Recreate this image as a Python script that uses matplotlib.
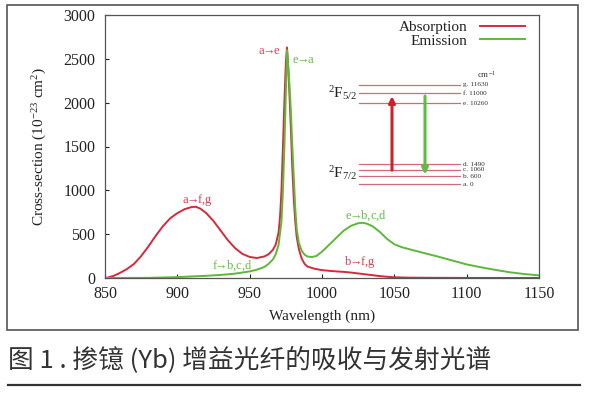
import matplotlib
matplotlib.use("Agg")
import matplotlib.pyplot as plt
from matplotlib.patches import Rectangle
from matplotlib.lines import Line2D

plt.rcParams['font.family'] = ['Liberation Serif', 'DejaVu Serif']
plt.rcParams['mathtext.fontset'] = 'custom'
plt.rcParams['mathtext.rm'] = 'Liberation Serif'
plt.rcParams['mathtext.it'] = 'Liberation Serif:italic'

# ---------------- data ----------------
abs_wl = [850, 852, 856, 860, 865, 870, 875, 880, 885, 890, 895, 900, 905, 910, 913,
          916, 920, 925, 930, 935, 940, 945, 950, 955, 960, 963, 966, 968, 970, 971,
          972, 973, 974, 975, 975.8, 976.5, 977.5, 978.5, 979.5, 980.5, 981.5, 982.5,
          984, 986, 988, 990, 995, 1000, 1005, 1010, 1015, 1020, 1025, 1030, 1035,
          1040, 1045, 1050, 1060, 1080, 1100, 1150]
abs_val = [0, 5, 25, 55, 100, 160, 250, 360, 480, 590, 680, 740, 785, 810, 812,
           790, 740, 650, 540, 430, 340, 275, 240, 228, 245, 270, 320, 380, 520, 700,
           1000, 1500, 2000, 2450, 2630, 2450, 2100, 1700, 1250, 900, 650, 470,
           330, 220, 160, 130, 105, 90, 82, 75, 70, 62, 52, 42, 32,
           22, 14, 8, 4, 2, 1, 0]

em_wl = [850, 880, 900, 910, 920, 930, 940, 950, 955, 960, 963, 966, 968, 970, 972,
         973, 974, 975, 975.8, 976.5, 977.5, 978.5, 979.5, 980.5, 981.5, 982.5, 984,
         986, 988, 990, 993, 996, 1000, 1005, 1010, 1015, 1020, 1025, 1028, 1031,
         1035, 1040, 1045, 1050, 1055, 1060, 1070, 1080, 1090, 1100, 1110, 1120,
         1130, 1140, 1150]
em_val = [0, 2, 10, 18, 25, 35, 50, 75, 95, 125, 160, 210, 270, 380, 650,
          1000, 1500, 2100, 2600, 2450, 2200, 1900, 1500, 1150, 800, 560, 400,
          310, 265, 245, 240, 250, 300, 380, 460, 540, 595, 625, 630, 620,
          590, 525, 445, 385, 352, 330, 287, 245, 200, 155, 122, 92,
          65, 45, 30]

x_ticks = [850, 900, 950, 1000, 1050, 1100, 1150]
y_ticks = [0, 500, 1000, 1500, 2000, 2500, 3000]

level_names = ['a', 'b', 'c', 'd', 'e', 'f', 'g']
level_energy = [0, 600, 1060, 1490, 10260, 11000, 11630]

RED = '#d42a3c'
GREEN = '#5db83a'
RED_T = '#d8404e'
GREEN_T = '#66bb48'

W, H = 589, 397
fig = plt.figure(figsize=(W / 100, H / 100), dpi=100)

def fx(px):
    return px / W

def fy(py):
    return 1 - py / H

# outer frame
fig.patches.append(Rectangle((fx(7), fy(330)), fx(578) - fx(7), fy(5) - fy(330),
                             transform=fig.transFigure, fill=False,
                             edgecolor='#555555', linewidth=1.2))

ax = fig.add_axes([fx(105), fy(278), fx(539) - fx(105), fy(15) - fy(278)])
ax.plot(abs_wl, abs_val, color=RED, lw=1.4, label='Absorption')
ax.plot(em_wl, em_val, color=GREEN, lw=1.4, label='Emission')
ax.set_xlim(850, 1150)
ax.set_ylim(0, 3000)
ax.set_xticks(x_ticks)
ax.set_yticks(y_ticks)
ax.tick_params(direction='in', length=3, labelsize=11.5, colors='#222222')
ax.tick_params(axis='x', pad=6)
ax.tick_params(axis='y', pad=7)
for s in ax.spines.values():
    s.set_color('#555555')
    s.set_linewidth(0.9)
ax.set_xlabel('Wavelength (nm)', fontsize=11, color='#222222', labelpad=5)
ax.set_ylabel('Cross-section (10$^{-23}$ cm$^{2}$)', fontsize=11, color='#222222', labelpad=10)

leg = ax.legend(loc='upper right', bbox_to_anchor=(0.99, 1.015), frameon=False,
                markerfirst=False, fontsize=11, handlelength=3.0, handletextpad=0.8,
                labelspacing=0.0, borderaxespad=0.2)
for t in leg.get_texts():
    t.set_color('#222222')

# transition labels
ann = dict(fontsize=9)
AR = '$\\!\\!\\rightarrow\\!\\!$'
ax.text(971.5, 2585, 'a' + AR + 'e', color=RED_T, ha='right', va='center', **ann)
ax.text(979, 2490, 'e' + AR + 'a', color=GREEN_T, ha='left', va='center', **ann)
ax.text(914, 885, 'a' + AR + 'f,g', color=RED_T, ha='center', va='center', **ann)
ax.text(938, 135, 'f' + AR + 'b,c,d', color=GREEN_T, ha='center', va='center', **ann)
ax.text(1030, 715, 'e' + AR + 'b,c,d', color=GREEN_T, ha='center', va='center', **ann)
ax.text(1026, 180, 'b' + AR + 'f,g', color=RED_T, ha='center', va='center', **ann)

# energy level inset
ins = fig.add_axes([fx(320), fy(190), fx(540) - fx(320), fy(70) - fy(190)])
ins.set_xlim(320, 540)
ins.set_ylim(-450, 8550)
ins.axis('off')
ins.patch.set_alpha(0)
OFF = 4200

def disp(e):
    return e - OFF if e > 5000 else e

for name, e in zip(level_names, level_energy):
    y = disp(e)
    ins.plot([359, 460], [y, y], color='#d46a78', lw=0.9)
    ins.text(463, y, f'{name}. {e}', fontsize=5.2, va='center', ha='left', color='#333333')
ins.text(477, disp(12450), 'cm$^{-1}$', fontsize=6.5, va='center', ha='left', color='#333333')
ins.text(357, disp(11050), '$^{2}$F$_{5/2}$', fontsize=11, va='center', ha='right', color='#222222')
ins.text(357, 800, '$^{2}$F$_{7/2}$', fontsize=11, va='center', ha='right', color='#222222')
ins.annotate('', xy=(392, disp(11000)), xytext=(392, 825),
             arrowprops=dict(arrowstyle='-|>', color='#d0202c', lw=2.2, mutation_scale=9))
ins.annotate('', xy=(425, 500), xytext=(425, disp(11000)),
             arrowprops=dict(arrowstyle='-|>', color='#58c040', lw=2.2, mutation_scale=9))

# caption
fig.text(fx(8), fy(361), '图 1 . 掺镱 (Yb) 增益光纤的吸收与发射光谱', fontsize=18.5,
         family=['Noto Sans CJK SC', 'DejaVu Sans'], color='#333333', va='center', ha='left')
fig.add_artist(Line2D([fx(8), fx(580)], [fy(385), fy(385)], transform=fig.transFigure,
                      color='#333333', lw=1.6))

fig.savefig('out.png', dpi=100)
